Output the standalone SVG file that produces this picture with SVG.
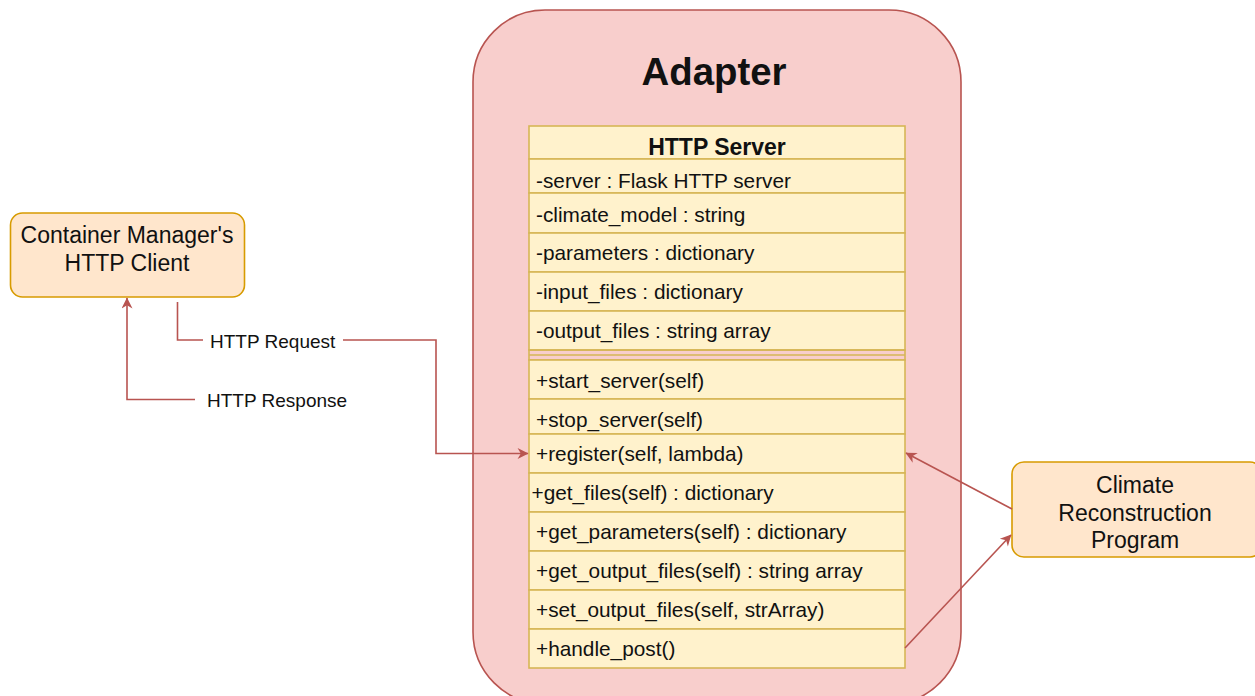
<svg xmlns="http://www.w3.org/2000/svg" width="1255" height="696" viewBox="0 0 1255 696">
  <defs>
    <marker id="arrow" viewBox="0 0 10 10" refX="9.5" refY="5" markerWidth="13" markerHeight="11" orient="auto" markerUnits="userSpaceOnUse">
      <path d="M0,0 L10,5 L0,10 L3,5 Z" fill="#b85450"/>
    </marker>
    <style>
      text { font-family: "Liberation Sans", Arial, sans-serif; fill: #111; }
      .container { fill: #f8cecc; stroke: #b85450; stroke-width: 1.6; }
      .cls { fill: #fff2cc; stroke: #d6b656; stroke-width: 1.6; }
      .row { font-size: 20.8px; }
      .title { font-size: 38.4px; font-weight: bold; text-anchor: middle; }
      .head { font-size: 23px; font-weight: bold; text-anchor: middle; }
      .node { fill: #ffe6cc; stroke: #d79b00; stroke-width: 1.6; }
      .nodetext { font-size: 23px; text-anchor: middle; }
      .edge { fill: none; stroke: #b85450; stroke-width: 1.6; }
      .elabel { font-size: 19px; }
    </style>
  </defs>

  <!-- Adapter container -->
  <g id="adapter">
    <rect class="container" x="473" y="10" width="488" height="694" rx="72" ry="72"/>
    <text class="title" x="714" y="85">Adapter</text>
  </g>

  <!-- HTTP Server class -->
  <g id="http-server">
    <rect class="cls" x="529" y="126" width="376" height="33"/>
    <text class="head" x="717" y="155">HTTP Server</text>

    <rect class="cls" x="529" y="159" width="376" height="34"/>
    <text class="row" x="536" y="187.5">-server : Flask HTTP server</text>
    <rect class="cls" x="529" y="193" width="376" height="40"/>
    <text class="row" x="536" y="221.5">-climate_model : string</text>
    <rect class="cls" x="529" y="233" width="376" height="39"/>
    <text class="row" x="536" y="260">-parameters : dictionary</text>
    <rect class="cls" x="529" y="272" width="376" height="39"/>
    <text class="row" x="536" y="299">-input_files : dictionary</text>
    <rect class="cls" x="529" y="311" width="376" height="39"/>
    <text class="row" x="536" y="338">-output_files : string array</text>

    <!-- separator -->
    <rect x="529" y="350" width="376" height="10" fill="none" stroke="#d6b656" stroke-width="1.6"/>
    <line x1="529" y1="355" x2="905" y2="355" stroke="#d6b656" stroke-width="1.6"/>

    <rect class="cls" x="529" y="360" width="376" height="39"/>
    <text class="row" x="536" y="388">+start_server(self)</text>
    <rect class="cls" x="529" y="399" width="376" height="35"/>
    <text class="row" x="536" y="427">+stop_server(self)</text>
    <rect class="cls" x="529" y="434" width="376" height="39"/>
    <text class="row" x="536" y="460.5">+register(self, lambda)</text>
    <rect class="cls" x="529" y="473" width="376" height="39"/>
    <text class="row" x="531.5" y="499.5">+get_files(self) : dictionary</text>
    <rect class="cls" x="529" y="512" width="376" height="39"/>
    <text class="row" x="536" y="539">+get_parameters(self) : dictionary</text>
    <rect class="cls" x="529" y="551" width="376" height="39"/>
    <text class="row" x="536" y="578">+get_output_files(self) : string array</text>
    <rect class="cls" x="529" y="590" width="376" height="39"/>
    <text class="row" x="536" y="617">+set_output_files(self, strArray)</text>
    <rect class="cls" x="529" y="629" width="376" height="39"/>
    <text class="row" x="536" y="656">+handle_post()</text>
  </g>

  <!-- Container Manager's HTTP Client -->
  <g id="http-client">
    <rect class="node" x="10.5" y="213" width="234" height="84" rx="12" ry="12"/>
    <text class="nodetext" x="127" y="243">Container Manager's</text>
    <text class="nodetext" x="127" y="271">HTTP Client</text>
  </g>

  <!-- Climate Reconstruction Program -->
  <g id="climate-program">
    <rect class="node" x="1012" y="462" width="250" height="95" rx="12" ry="12"/>
    <text class="nodetext" x="1135" y="493">Climate</text>
    <text class="nodetext" x="1135" y="520.5">Reconstruction</text>
    <text class="nodetext" x="1135" y="548">Program</text>
  </g>

  <!-- Connectors -->
  <g id="connectors">
    <!-- HTTP Request -->
    <polyline class="edge" points="177.5,302 177.5,340 203,340"/>
    <polyline class="edge" points="343,340 436,340 436,453.5 528,453.5" marker-end="url(#arrow)"/>
    <text class="elabel" x="210" y="347.5">HTTP Request</text>

    <!-- HTTP Response -->
    <polyline class="edge" points="195,399.5 127,399.5 127,298" marker-end="url(#arrow)"/>
    <text class="elabel" x="207" y="406.5">HTTP Response</text>

    <!-- Climate program to register() -->
    <line class="edge" x1="1012" y1="509" x2="906" y2="453" marker-end="url(#arrow)"/>
    <!-- handle_post() to climate program -->
    <line class="edge" x1="905" y1="648" x2="1011" y2="535" marker-end="url(#arrow)"/>
  </g>
</svg>
